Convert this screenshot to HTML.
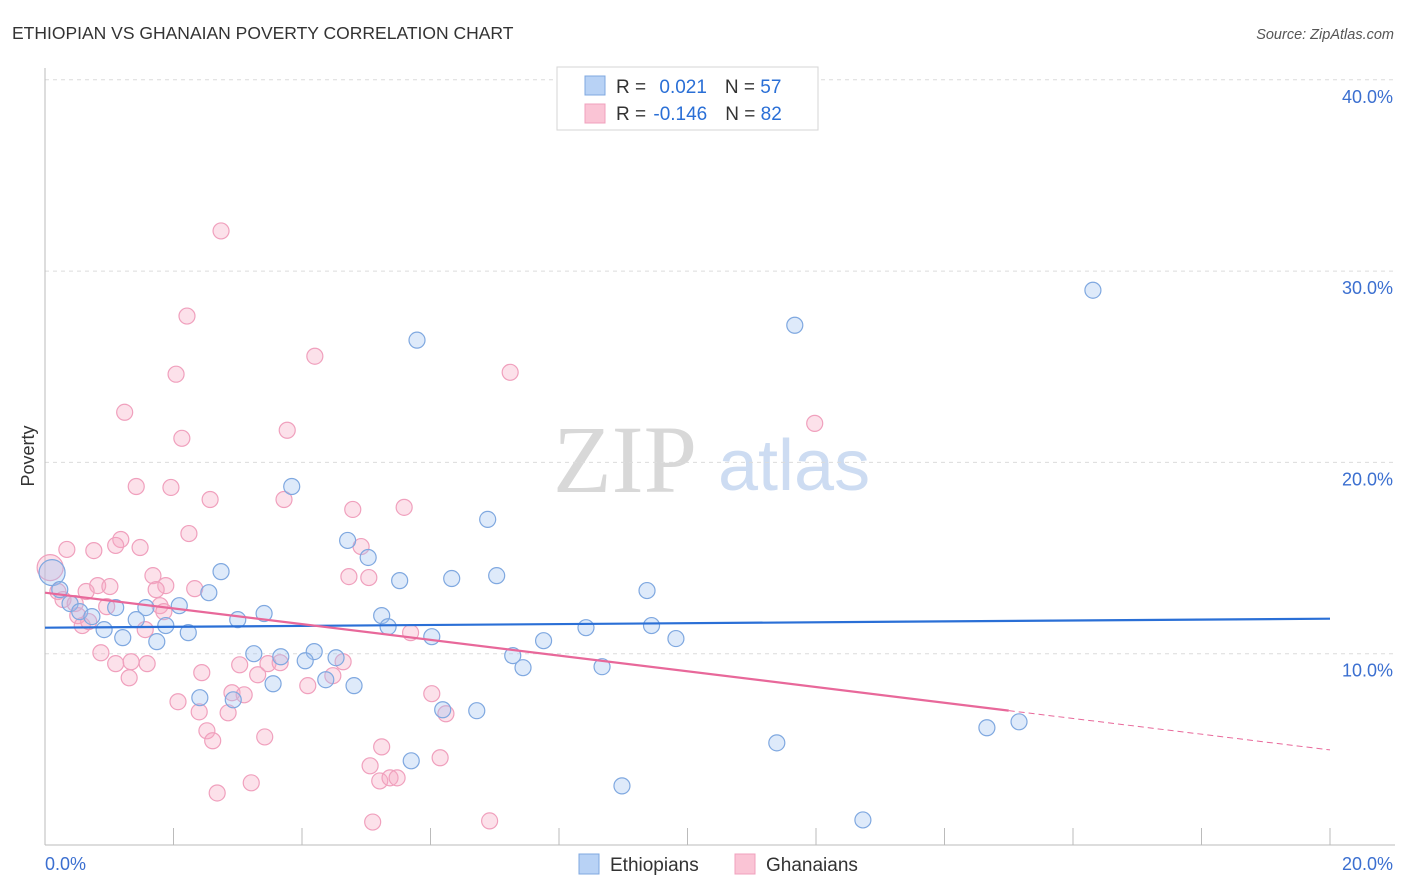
<!DOCTYPE html>
<html><head><meta charset="utf-8"><style>
body{margin:0;background:#fff;font-family:"Liberation Sans",sans-serif;}
svg{display:block}
</style></head><body>
<svg id="chart" width="1406" height="892" xmlns="http://www.w3.org/2000/svg">
<text x="12" y="39" font-size="17.5" fill="#333">ETHIOPIAN VS GHANAIAN POVERTY CORRELATION CHART</text>
<text x="1394" y="39" font-size="14.5" fill="#555" font-style="italic" text-anchor="end">Source: ZipAtlas.com</text>
<g>
<text x="553" y="492" font-family="Liberation Serif,serif" font-size="96" fill="#d8d8d8">ZIP</text>
<text x="718" y="490" font-size="72" fill="#cddcf2">atlas</text>
</g>
<g id="grid"></g>
<g id="axes"></g>
<g id="pts"></g>
<g id="trends"></g>
<g>
<rect x="557" y="67" width="261" height="63" fill="#fff" stroke="#d5d5d5"/>
<rect x="585" y="76" width="20" height="19" fill="#b8d2f5" stroke="#7fa8e0"/>
<rect x="585" y="104" width="20" height="19" fill="#fac4d5" stroke="#f0a0bd"/>
<text x="616" y="93" font-size="19" fill="#333">R = <tspan fill="#2a6fd6" dx="8">0.021</tspan><tspan dx="18">N = </tspan><tspan fill="#2a6fd6">57</tspan></text>
<text x="616" y="120" font-size="19" fill="#333">R = <tspan fill="#2a6fd6" dx="2">-0.146</tspan><tspan dx="18">N = </tspan><tspan fill="#2a6fd6">82</tspan></text>
</g>
<g>
<rect x="579" y="854" width="20" height="20" fill="#b8d2f5" stroke="#7fa8e0"/>
<text x="610" y="871" font-size="19" fill="#333">Ethiopians</text>
<rect x="735" y="854" width="20" height="20" fill="#fac4d5" stroke="#f0a0bd"/>
<text x="766" y="871" font-size="19" fill="#333">Ghanaians</text>
</g>
<text x="34" y="456" font-size="18" fill="#333" transform="rotate(-90 34 456)" text-anchor="middle">Poverty</text>
</svg>
<script>
const blueX=[16.31,11.67,5.79,3.84,6.89,4.71,5.03,2.74,5.52,6.33,7.03,9.37,2.55,0.11,0.23,0.39,0.54,0.73,1.10,1.57,2.09,1.42,1.88,0.92,1.21,1.74,2.23,3.00,3.41,5.24,5.34,6.02,7.76,8.42,9.44,9.82,3.25,3.67,4.19,4.53,4.05,7.28,7.44,8.67,4.37,4.81,3.55,2.41,2.93,6.19,6.72,15.16,14.66,11.39,5.70,8.98,12.73];
const blueY=[29.0,27.17,26.39,18.74,17.02,15.92,15.03,14.29,13.82,13.93,14.08,13.30,13.19,14.24,13.35,12.62,12.20,11.94,12.41,12.41,12.51,11.78,11.47,11.26,10.84,10.63,11.10,11.78,12.10,11.99,11.41,10.89,10.68,11.36,11.47,10.79,10.00,9.84,10.11,9.79,9.63,9.90,9.27,9.32,8.64,8.33,8.43,7.70,7.59,7.07,7.02,6.44,6.13,5.34,4.40,3.09,1.31];
const pinkX=[2.74,2.21,4.20,2.04,7.24,1.24,11.98,2.13,3.77,1.42,1.96,2.57,3.72,4.79,5.59,2.24,0.34,0.76,1.18,1.10,1.48,4.92,1.68,1.88,0.82,1.01,0.64,1.73,2.33,0.08,0.20,0.28,0.47,0.96,1.79,1.85,0.51,0.58,0.68,1.56,4.73,5.04,5.69,0.87,1.10,1.34,1.59,3.03,3.47,3.66,4.64,2.44,3.31,1.31,4.48,4.09,2.91,3.10,2.07,2.40,2.85,6.02,6.24,2.52,2.61,3.42,5.24,6.15,5.06,5.21,5.37,5.48,3.21,2.68,5.10,6.92];
const pinkY=[32.10,27.65,25.55,24.61,24.71,22.62,22.04,21.26,21.68,18.74,18.69,18.06,18.06,17.54,17.65,16.28,15.45,15.39,15.97,15.66,15.55,15.60,14.08,13.56,13.56,13.51,13.25,13.35,13.40,14.50,13.25,12.83,12.62,12.46,12.51,12.20,11.99,11.47,11.68,11.26,14.03,13.98,11.10,10.05,9.48,9.58,9.48,9.42,9.48,9.53,9.58,9.01,8.90,8.74,8.85,8.33,7.96,7.85,7.49,6.96,6.91,7.91,6.86,5.97,5.45,5.65,5.13,4.56,4.14,3.35,3.51,3.51,3.25,2.72,1.20,1.26];
const blueTrend=[11.36,11.83];
const pinkTrend=[13.19,4.97];
const pinkSolidEnd=15.0;
const yTicks=[10,20,30,40];
const yTickLabels=["10.0%","20.0%","30.0%","40.0%"];
const xTicks=[0,2,4,6,8,10,12,14,16,18,20];
const NS="http://www.w3.org/2000/svg";
const X=v=>45+v/20*1285, Y=v=>845-v*19.13;
function mk(tag,attrs,parent){const e=document.createElementNS(NS,tag);for(const k in attrs)e.setAttribute(k,attrs[k]);parent.appendChild(e);return e;}
const grid=document.getElementById('grid'),axes=document.getElementById('axes'),pts=document.getElementById('pts'),tr=document.getElementById('trends');
yTicks.forEach((t,i)=>{
 const l=mk('line',{x1:45,x2:1395,y1:Y(t),y2:Y(t),stroke:'#dcdcdc','stroke-dasharray':'4,4'},grid);
 
 
 const tx=mk('text',{x:1393,y:Y(t)+23,'font-size':18,fill:'#3b6fd0','text-anchor':'end'},axes);
 tx.textContent=yTickLabels[i];
 
 
});
let a=mk('line',{x1:45,x2:45,y1:68,y2:845,stroke:'#bbb'},axes);


a=mk('line',{x1:45,x2:1395,y1:845,y2:845,stroke:'#bbb'},axes);


xTicks.forEach(t=>{const l=mk('line',{x1:X(t),x2:X(t),y1:828,y2:845,stroke:'#bbb'},axes);
 
 });
let t0=mk('text',{x:45,y:870,'font-size':18,fill:'#3b6fd0'},axes);t0.textContent='0.0%';


let t1=mk('text',{x:1393,y:870,'font-size':18,fill:'#3b6fd0','text-anchor':'end'},axes);t1.textContent='20.0%';


function drawPts(xs,ys,fill,stroke,name){xs.forEach((x,i)=>{
 const big=(x<0.15);
 const c=mk('circle',{cx:X(x),cy:Y(ys[i]),r:big?13:8,fill:fill,stroke:stroke,'stroke-width':1.2},pts);
 
 });}
drawPts(pinkX,pinkY,'rgba(245,170,196,0.35)','#f0a0bd','ghanaian-point');
drawPts(blueX,blueY,'rgba(160,195,240,0.35)','#7fa8e0','ethiopian-point');
let bl=mk('line',{x1:X(0),x2:X(20),y1:Y(blueTrend[0]),y2:Y(blueTrend[1]),stroke:'#2a6fd6','stroke-width':2.2},tr);


const pAt=v=>pinkTrend[0]+(pinkTrend[1]-pinkTrend[0])*v/20;
let pl=mk('line',{x1:X(0),x2:X(pinkSolidEnd),y1:Y(pinkTrend[0]),y2:Y(pAt(pinkSolidEnd)),stroke:'#e8689a','stroke-width':2.2},tr);


let pd=mk('line',{x1:X(pinkSolidEnd),x2:X(20),y1:Y(pAt(pinkSolidEnd)),y2:Y(pinkTrend[1]),stroke:'#e8689a','stroke-width':1,'stroke-dasharray':'6,4'},tr);


</script>
</body></html>
